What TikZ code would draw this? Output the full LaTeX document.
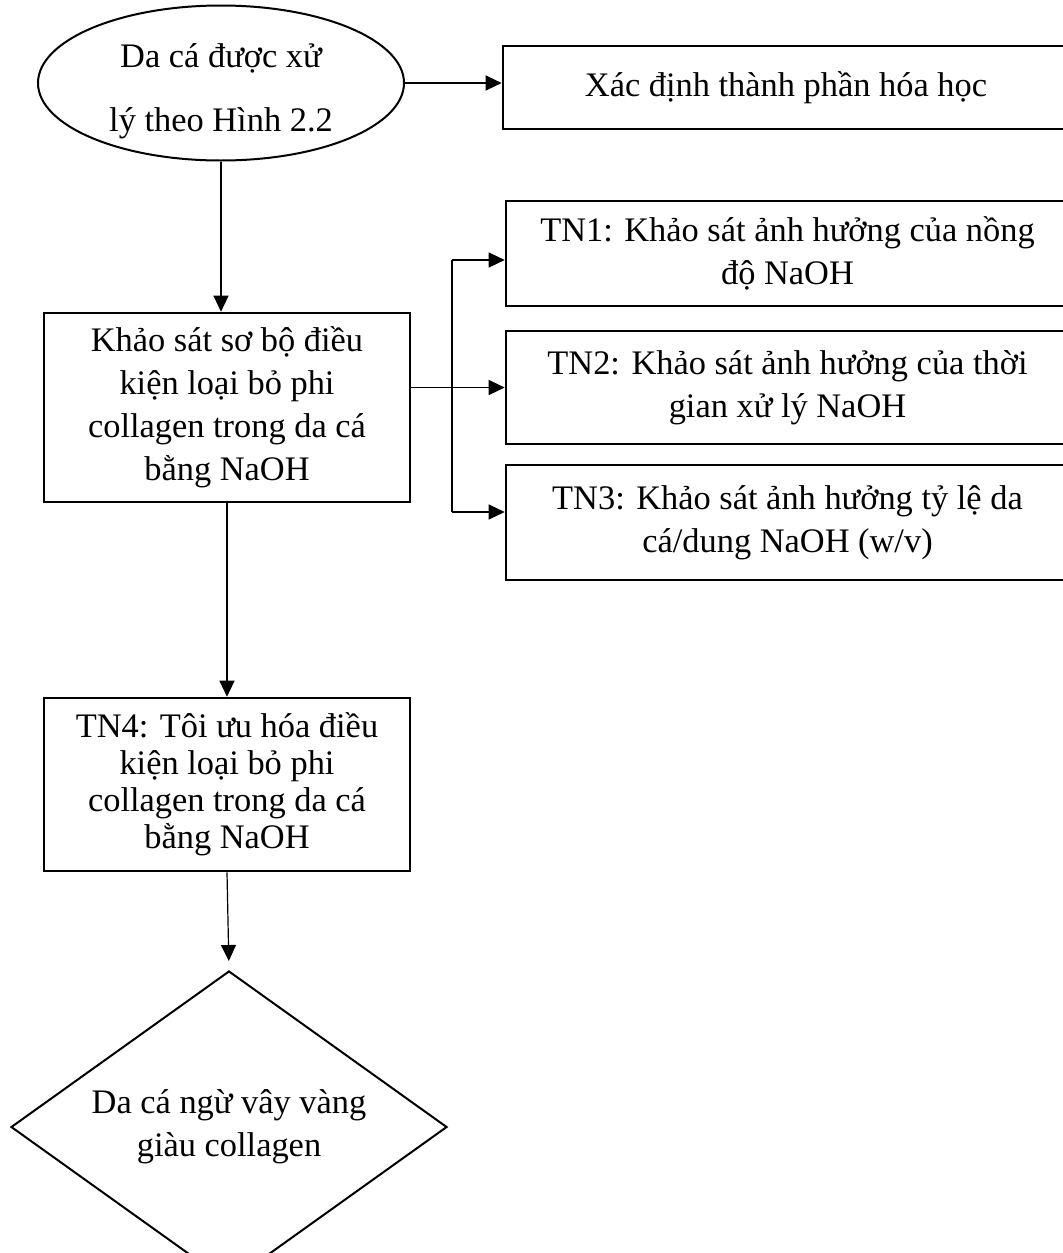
\documentclass[tikz,border=0pt]{standalone}
\usepackage{fontspec}
\setmainfont{Liberation Serif}
\usetikzlibrary{shapes.geometric,arrows.meta}

\begin{document}
\begin{tikzpicture}[x=0.5pt,y=-0.5pt,
  txt/.style={font=\fontsize{17.2}{21.5}\selectfont, align=center, inner sep=0pt},
  boxnode/.style={txt, draw=black, line width=1.3pt, rectangle},
  line/.style={black, line width=0.6pt},
  arr/.style={line, -{Triangle[length=8pt,width=7.5pt]}}]
\useasboundingbox (0,0) rectangle (1062,1253);
\coordinate (E) at (221,83);
\coordinate (X) at (786,87.5);
\coordinate (K) at (227,407.5);
\coordinate (T) at (227,784.5);
\coordinate (D) at (229,1127);
\node[draw=black, line width=1pt, ellipse, minimum width=183pt, minimum height=77.5pt] (ell) at (E) {};
\node[txt, font=\fontsize{17.2}{32}\selectfont] (ellt) at ([yshift=-4pt]ell.center) {Da cá được xử\\lý theo Hình 2.2};
\node[boxnode, minimum width=283pt, minimum height=41.5pt] (xd) at (X) {Xác định thành phần hóa học};
\node[boxnode, minimum width=183pt, minimum height=94.5pt] (kss) at (K)
  {Khảo sát sơ bộ điều\\kiện loại bỏ phi\\collagen trong da cá\\bằng NaOH};
\node[boxnode, minimum width=183pt, minimum height=86.5pt, font=\fontsize{17.2}{18.5}\selectfont] (tn4) at (T)
  {TN4: Tôi ưu hóa điều\\kiện loại bỏ phi\\collagen trong da cá\\bằng NaOH};
\node[txt, draw=black, line width=1pt, diamond, shape aspect=1.4, minimum width=218pt, minimum height=156pt] (dia) at (D)
  {Da cá ngừ vây vàng\\giàu collagen};
%------------------
\node[boxnode, minimum width=281.5pt, minimum height=52.5pt] (tn1) at (787.5,253.5)
  {TN1: Khảo sát ảnh hưởng của nồng\\độ NaOH};
\node[boxnode, minimum width=281.5pt, minimum height=56.5pt] (tn2) at (787.5,387.5)
  {TN2: Khảo sát ảnh hưởng của thời\\gian xử lý NaOH};
\node[boxnode, minimum width=281.5pt, minimum height=57.5pt] (tn3) at (787.5,522.5)
  {TN3: Khảo sát ảnh hưởng tỷ lệ da\\cá/dung NaOH (w/v)};
\coordinate (b1) at (452,260);
\coordinate (b3) at (452,512);
%------------------
\draw[arr] (ell.east) -- (ell.east -| xd.west);
\draw[arr] (ell.south) -- (ell.south |- kss.north);
\draw[arr] (kss.east |- tn2.west) -- (tn2.west);
\draw[line] (b1) -- (b3);
\draw[arr] (b1) -- (b1 -| tn1.west);
\draw[arr] (b3) -- (b3 -| tn3.west);
\draw[arr] (kss.south) -- (tn4.north);
\draw[arr, shorten >=4.5pt] (tn4.south) -- (dia.north);
\end{tikzpicture}
\end{document}
